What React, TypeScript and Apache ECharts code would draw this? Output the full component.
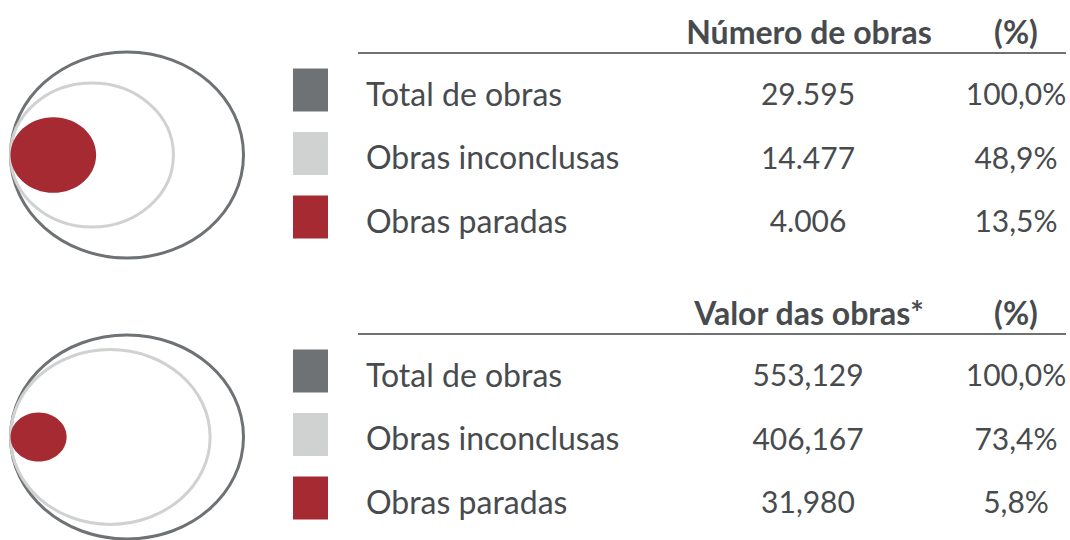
import React, { useEffect, useRef } from "react";
import * as echarts from "echarts";

const tableTitles = ["Número de obras", "Valor das obras*"];
const percentTitle = "(%)";
const categories = ["Total de obras", "Obras inconclusas", "Obras paradas"];
const countValues = [29595, 14477, 4006];
const amountValues = [553.129, 406.167, 31.98];
const countPercents = [100.0, 48.9, 13.5];
const amountPercents = [100.0, 73.4, 5.8];
const colors = ["#6f7275", "#d0d1d1", "#a52a32"];

const FONT = "Lato";
const TEXT = "#484b4e";

function fmtCount(v: number) {
  return String(v).replace(/\B(?=(\d{3})+(?!\d))/g, ".");
}
function fmtAmount(v: number) {
  return v.toFixed(3).replace(".", ",");
}
function fmtPct(v: number) {
  return v.toFixed(1).replace(".", ",") + "%";
}

function buildBlock(
  title: string,
  values: string[],
  pcts: number[],
  top: number,
  cy: number,
  R: { rx: number; ry: number }
) {
  const els: any[] = [];
  const left = 10.5;
  pcts.forEach((p, i) => {
    const k = Math.sqrt(p / 100);
    const rx = R.rx * k;
    const ry = R.ry * k;
    els.push({
      type: "ellipse",
      shape: { cx: left + rx, cy, rx, ry },
      style:
        i === 2
          ? { fill: colors[2], stroke: null }
          : { fill: "none", stroke: colors[i], lineWidth: 3 },
      z: 10 + i,
    });
  });
  els.push({
    type: "text",
    x: 809,
    y: top,
    style: {
      text: title,
      font: `bold 32px ${FONT}`,
      fill: TEXT,
      textAlign: "center",
      textVerticalAlign: "middle",
    },
  });
  els.push({
    type: "text",
    x: 1016,
    y: top,
    style: {
      text: percentTitle,
      font: `bold 32px ${FONT}`,
      fill: TEXT,
      textAlign: "center",
      textVerticalAlign: "middle",
    },
  });
  els.push({
    type: "line",
    shape: { x1: 358, y1: top + 22, x2: 1066, y2: top + 22 },
    style: { stroke: "#6f7275", lineWidth: 2 },
  });
  categories.forEach((c, i) => {
    const y = top + 62 + i * 63.5;
    els.push({
      type: "rect",
      shape: { x: 293, y: y - 24.5, width: 35, height: 43 },
      style: { fill: colors[i] },
    });
    els.push({
      type: "text",
      x: 366,
      y,
      style: {
        text: c,
        font: `32px ${FONT}`,
        fill: TEXT,
        textAlign: "left",
        textVerticalAlign: "middle",
      },
    });
    els.push({
      type: "text",
      x: 808,
      y,
      style: {
        text: values[i],
        font: `30px ${FONT}`,
        fill: TEXT,
        textAlign: "center",
        textVerticalAlign: "middle",
      },
    });
    els.push({
      type: "text",
      x: 1016,
      y,
      style: {
        text: fmtPct(pcts[i]),
        font: `30px ${FONT}`,
        fill: TEXT,
        textAlign: "center",
        textVerticalAlign: "middle",
      },
    });
  });
  return els;
}

export default function App() {
  const ref = useRef<HTMLDivElement>(null);
  useEffect(() => {
    document.body.style.margin = "0";
    const chart = echarts.init(ref.current!, null, { renderer: "svg" });
    const graphic = [
      ...buildBlock(
        tableTitles[0],
        countValues.map(fmtCount),
        countPercents,
        31,
        155,
        { rx: 116.5, ry: 103 }
      ),
      ...buildBlock(
        tableTitles[1],
        amountValues.map(fmtAmount),
        amountPercents,
        312,
        437,
        { rx: 116.5, ry: 102 }
      ),
    ];
    chart.setOption({
      animation: false,
      backgroundColor: "#ffffff",
      graphic,
    });
    return () => chart.dispose();
  }, []);
  return <div ref={ref} style={{ width: 1070, height: 540 }} />;
}
